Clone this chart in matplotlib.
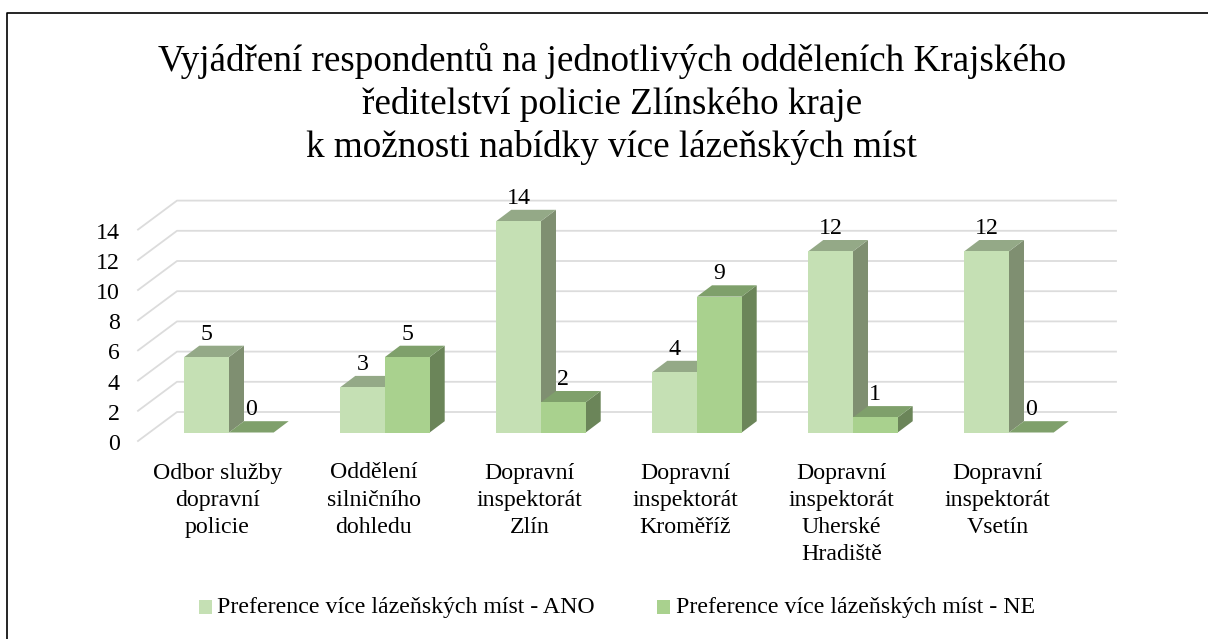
import matplotlib
matplotlib.use("Agg")
import matplotlib.pyplot as plt
from matplotlib.lines import Line2D
from matplotlib.patches import Polygon, Rectangle
from matplotlib.transforms import ScaledTranslation

plt.rcParams['font.family'] = ['Liberation Serif', 'DejaVu Serif']

# data
categories = ["Odbor služby\ndopravní\npolicie", "Oddělení\nsilničního\ndohledu",
              "Dopravní\ninspektorát\nZlín", "Dopravní\ninspektorát\nKroměříž",
              "Dopravní\ninspektorát\nUherské\nHradiště", "Dopravní\ninspektorát\nVsetín"]
ano = [5, 3, 14, 4, 12, 12]
ne = [0, 5, 2, 9, 1, 0]
y_ticks = [0, 2, 4, 6, 8, 10, 12, 14]
title = ("Vyjádření respondentů na jednotlivých odděleních Krajského\n"
         "ředitelství policie Zlínského kraje\n"
         "k možnosti nabídky více lázeňských míst")
series_names = ["Preference více lázeňských míst - ANO", "Preference více lázeňských míst - NE"]

W, H = 1208, 639
fig = plt.figure(figsize=(W / 100, H / 100), dpi=100)

# chart frame: only left and top edges are visible in the picture
fig.add_artist(Line2D([7.5 / W, 7.5 / W, 1], [0, 1 - 12.5 / H, 1 - 12.5 / H], color='black', lw=1.2))

# axes: x unit = one category (156 px), y unit = 15.1 px, x origin at left edge of first bar
px_cat, px_val = 156.0, 15.1
x0, y0 = 184.3, 432.5
left, right = 138.0, 1116.0
top = 185.0
ax = fig.add_axes([left / W, (H - y0) / H, (right - left) / W, (y0 - top) / H])
ax.set_xlim((left - x0) / px_cat, (right - x0) / px_cat)
ax.set_ylim(0, (y0 - top) / px_val)
for s in ax.spines.values():
    s.set_visible(False)
ax.patch.set_alpha(0)

bar_w = 44.7 / px_cat
dep_x, dep_y = 15.0 / px_cat, 11.3 / px_val       # bar depth
wall_x, wall_y = 39.0 / px_cat, 20.5 / px_val     # back wall offset of the grid
floor_y = -8.5 / px_val
lab_gap = 1.2 / px_val

grid_c = '#dcdcdc'
xl = (left - x0) / px_cat
xr = (right - x0) / px_cat
for v in y_ticks:
    ax.plot([xl, xl + wall_x, xr], [v + floor_y, v + wall_y, v + wall_y], color=grid_c, lw=1.3,
            clip_on=False, zorder=1)


def bar3d(x, v, front, side, topc, z):
    ax.add_patch(Polygon([(x + bar_w, 0), (x + bar_w + dep_x, dep_y), (x + bar_w + dep_x, v + dep_y), (x + bar_w, v)],
                         fc=side, ec='none', zorder=z, clip_on=False))
    ax.add_patch(Polygon([(x, v), (x + dep_x, v + dep_y), (x + bar_w + dep_x, v + dep_y), (x + bar_w, v)],
                         fc=topc, ec='none', zorder=z, clip_on=False))
    if v > 0:
        ax.add_patch(Rectangle((x, 0), bar_w, v, fc=front, ec='none', zorder=z + 0.1, clip_on=False))


for i in range(len(categories)):
    bar3d(i, ano[i], '#c5e0b4', '#7f8f71', '#94a987', 3)
    bar3d(i + bar_w, ne[i], '#a9d18e', '#6b8559', '#7fa06b', 4)
    ax.text(i + bar_w / 2, ano[i] + dep_y + lab_gap, str(ano[i]), ha='center', va='bottom', fontsize=17.2, zorder=6)
    ax.text(i + bar_w * 1.5, ne[i] + dep_y + lab_gap, str(ne[i]), ha='center', va='bottom', fontsize=17.2, zorder=6)

# ticks
ax.set_yticks(y_ticks)
ax.set_yticklabels([str(v) for v in y_ticks], fontsize=17.2)
ax.set_xticks([i + bar_w - 11.5 / px_cat for i in range(len(categories))])
ax.set_xticklabels(categories, fontsize=17.2, linespacing=1.38)
ax.tick_params(axis='both', length=0)
ax.tick_params(axis='x', pad=21.6)
ax.tick_params(axis='y', pad=13)
shift = ScaledTranslation(0, -9.5 / 100, fig.dpi_scale_trans)
for lab in ax.get_yticklabels():
    lab.set_transform(lab.get_transform() + shift)

fig.text(612 / W, 1 - 43 / H, title, ha='center', va='top', fontsize=26.7, linespacing=1.3)

# legend
y_leg = 1 - 607 / H
for name, col, xs, xt in zip(series_names, ['#c5e0b4', '#a9d18e'], [199, 657], [217, 676]):
    fig.add_artist(Rectangle((xs / W, y_leg - 7 / H), 13 / W, 14 / H, transform=fig.transFigure, fc=col, ec='none'))
    fig.text(xt / W, y_leg, name, ha='left', va='center', fontsize=17.2)

fig.savefig("out.png", dpi=100)
